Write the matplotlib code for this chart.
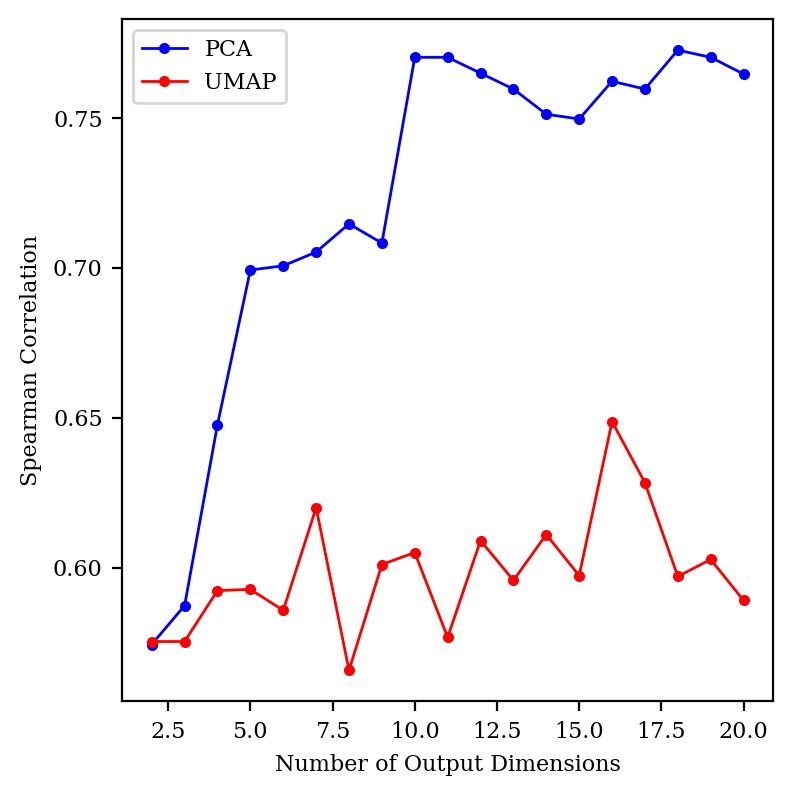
import matplotlib
matplotlib.use("Agg")
import matplotlib.pyplot as plt

plt.rcParams['font.family'] = 'serif'

dims = list(range(2, 21))
pca = [0.5743, 0.5873, 0.6477, 0.6993, 0.7007, 0.7053, 0.7147, 0.7083, 0.7703, 0.7703,
       0.7650, 0.7597, 0.7513, 0.7497, 0.7623, 0.7597, 0.7727, 0.7703, 0.7647]
umap = [0.5753, 0.5753, 0.5923, 0.5927, 0.5857, 0.6200, 0.5657, 0.6010, 0.6050, 0.5767,
        0.6090, 0.5957, 0.6110, 0.5973, 0.6487, 0.6283, 0.5970, 0.6027, 0.5890]

fig, ax = plt.subplots(figsize=(3.965, 3.98), dpi=200)
ax.plot(dims, pca, 'o-', color='blue', markersize=3, linewidth=1, label='PCA')
ax.plot(dims, umap, 'o-', color='red', markersize=3, linewidth=1, label='UMAP')
ax.set_xlabel('Number of Output Dimensions', fontsize=8)
ax.set_ylabel('Spearman Correlation', fontsize=8)
ax.tick_params(labelsize=8)
ax.legend(fontsize=8, loc='upper left')
fig.subplots_adjust(left=0.154, right=0.975, top=0.976, bottom=0.119)
fig.savefig('out.png')
